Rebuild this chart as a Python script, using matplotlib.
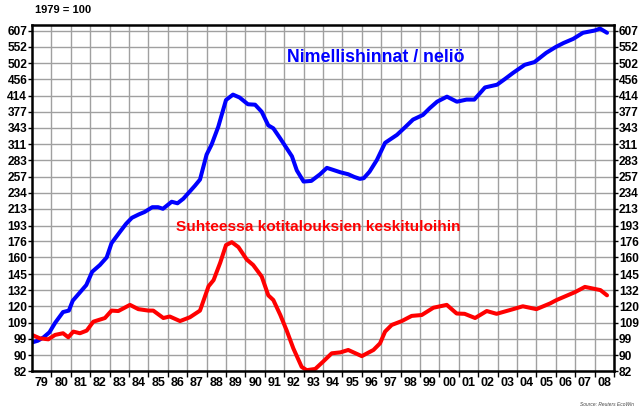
import matplotlib
matplotlib.use("Agg")
import matplotlib.pyplot as plt
from matplotlib.ticker import FixedLocator, NullLocator

# Asuntojen hintaindeksi, 1979 = 100
vuodet = list(range(1979, 2009))
vuosi_nimet = [f"{v % 100:02d}" for v in vuodet]
y_tikit = [82, 90, 99, 109, 120, 132, 145, 160, 176, 193, 213, 234, 257,
           283, 311, 343, 377, 414, 456, 502, 552, 607]

# Nimellishinnat / neliö (sininen)
nim_aika = [1979.0, 1979.3, 1979.6, 1979.9, 1980.2, 1980.6, 1980.9, 1981.1,
            1981.4, 1981.8, 1982.1, 1982.5, 1982.85, 1983.1, 1983.5, 1983.85,
            1984.15, 1984.5, 1984.8, 1985.2, 1985.5, 1985.75, 1986.2, 1986.5,
            1986.8, 1987.14, 1987.4, 1987.66, 1988.0, 1988.26, 1988.6, 1989.0,
            1989.36, 1989.7, 1990.13, 1990.5, 1990.84, 1991.18, 1991.44, 1991.8,
            1992.13, 1992.4, 1992.65, 1993.0, 1993.4, 1993.85, 1994.2, 1994.5,
            1994.9, 1995.3, 1995.6, 1995.9, 1996.1, 1996.4, 1996.78, 1997.2,
            1997.81, 1998.2, 1998.64, 1999.15, 1999.5, 1999.88, 2000.39, 2000.9,
            2001.4, 2001.8, 2002.35, 2002.97, 2003.4, 2003.8, 2004.4, 2004.9,
            2005.5, 2006.0, 2006.4, 2006.9, 2007.4, 2008.0, 2008.28, 2008.64]
nim_arvo = [97, 98, 100, 103, 109, 116, 117, 124,
            129, 136, 147, 153, 160, 174, 185, 195,
            202, 206, 209, 215, 215, 213, 222, 220,
            226, 236, 244, 253, 293, 311, 345, 404,
            417, 410, 394, 393, 377, 348, 342, 322,
            304, 290, 267, 250, 251, 261, 271, 268,
            264, 261, 257, 254, 255, 265, 284, 314,
            329, 343, 360, 370, 385, 400, 412, 400,
            405, 405, 435, 442, 458, 474, 497, 505,
            533, 552, 565, 579, 600, 608, 615, 600]

# Suhteessa kotitalouksien keskituloihin (punainen)
suh_aika = [1979.0, 1979.4, 1979.84, 1980.19, 1980.6, 1980.87, 1981.13, 1981.47,
            1981.82, 1982.16, 1982.76, 1983.1, 1983.45, 1984.05, 1984.48, 1985.0,
            1985.25, 1985.77, 1986.1, 1986.63, 1987.14, 1987.66, 1988.1, 1988.36,
            1988.7, 1989.0, 1989.3, 1989.64, 1990.07, 1990.4, 1990.84, 1991.18,
            1991.44, 1991.8, 1992.13, 1992.47, 1992.9, 1993.16, 1993.6, 1994.0,
            1994.45, 1994.9, 1995.3, 1996.0, 1996.6, 1996.94, 1997.2, 1997.54,
            1998.06, 1998.57, 1999.09, 1999.69, 2000.38, 2000.89, 2001.3, 2001.84,
            2002.44, 2002.95, 2003.8, 2004.3, 2005.0, 2005.7, 2006.04, 2007.0,
            2007.5, 2008.3, 2008.64]
suh_arvo = [101.4, 99.4, 98.8, 101.4, 102.4, 100, 103.4, 102.4,
            104, 109.6, 112, 117, 116.7, 121, 118, 117,
            117, 112, 113, 110, 112.5, 117, 135, 140,
            155, 172, 175, 170, 158, 153, 143, 128,
            124.5, 114, 104, 93.7, 84, 82.4, 83, 86.6,
            91, 91.5, 92.8, 89.5, 92.8, 96.5, 103.4, 107.5,
            110, 113.4, 114, 119, 121, 115, 114.8, 112,
            116.7, 114.8, 118, 120, 118, 122, 124.5, 130.5,
            134.5, 132, 128]

plt.rcParams["font.family"] = ["Liberation Sans", "DejaVu Sans"]
plt.rcParams["font.weight"] = "bold"

fig = plt.figure(figsize=(6.39, 4.12), dpi=100)
ax = fig.add_axes([32 / 639, 41 / 412, 582 / 639, 346.5 / 412])

ax.plot(nim_aika, nim_arvo, color="#0000ff", linewidth=2.9, solid_capstyle="round")
ax.plot(suh_aika, suh_arvo, color="#ff0000", linewidth=2.9, solid_capstyle="round")

ax.set_yscale("log")
ax.set_ylim(82, 630)
ax.set_xlim(vuodet[0], vuodet[-1] + 1)

ax.yaxis.set_major_locator(FixedLocator(y_tikit))
ax.yaxis.set_minor_locator(NullLocator())
ax.set_yticklabels([str(t) for t in y_tikit])
ax.tick_params(axis="y", which="both", right=True, labelright=True,
               length=3, width=1, labelsize=8.6, pad=0.5)

# vuosirajat ruudukkoon, nimet keskelle vuotta
ax.set_xticks(vuodet[1:] + [vuodet[-1] + 1])
ax.set_xticks([v + 0.5 for v in vuodet], minor=True)
ax.set_xticklabels(vuosi_nimet, minor=True)
ax.tick_params(axis="x", which="major", labelbottom=False, length=4, width=1)
ax.tick_params(axis="x", which="minor", length=0, labelsize=9, pad=4)

ax.grid(True, which="major", color="#a0a0a0", linewidth=1)
for s in ax.spines.values():
    s.set_linewidth(1.8)
    s.set_color("black")
ax.set_axisbelow(True)

ax.text(0.438, 0.905, "Nimellishinnat / neliö", transform=ax.transAxes,
        color="#0000ff", fontsize=12.8, fontweight="bold", va="center", ha="left")
ax.text(0.248, 0.415, "Suhteessa kotitalouksien keskituloihin", transform=ax.transAxes,
        color="#ff0000", fontsize=11.1, fontweight="bold", va="center", ha="left")

fig.text(35 / 639, 1 - 10 / 412, "1979 = 100", fontsize=8, fontweight="bold",
         va="center", ha="left")
fig.text(0.992, 0.012, "Source: Reuters EcoWin", fontsize=3.5, style="italic",
         fontweight="normal", color="#444444", ha="right", va="bottom")

fig.savefig("out.png", dpi=100)
